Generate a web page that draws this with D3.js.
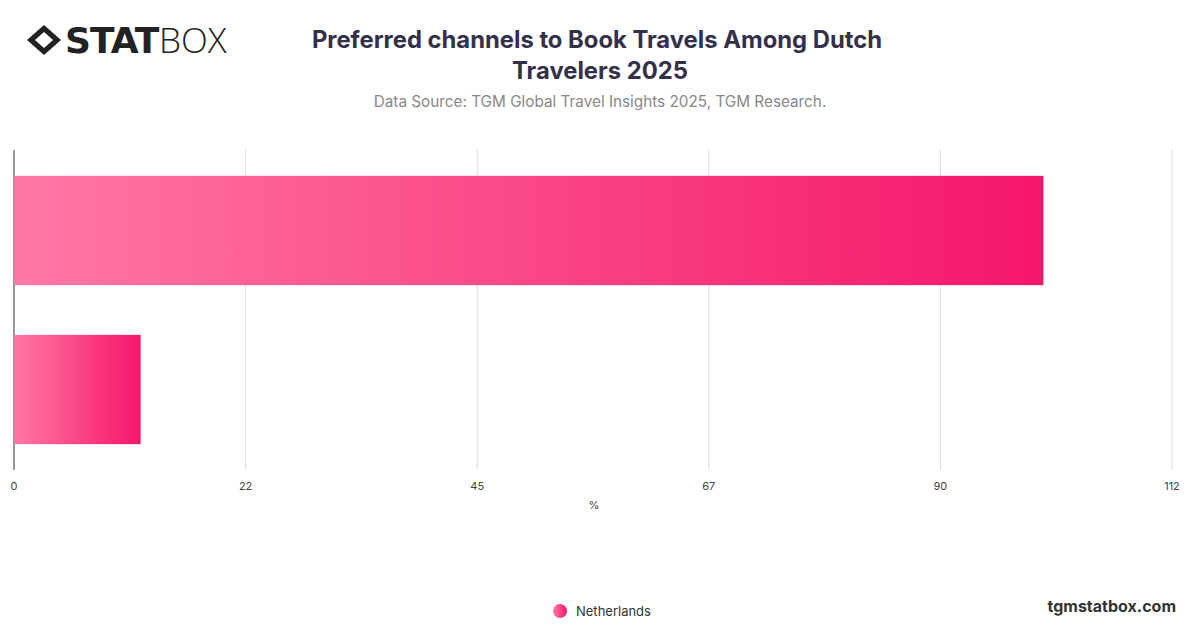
<!DOCTYPE html>
<html><head><meta charset="utf-8">
<script src="https://cdn.jsdelivr.net/npm/d3@7"></script>
<style>body{margin:0;background:#fff;font-family:Inter,"Noto Sans",sans-serif}</style>
</head><body><svg id="c" width="1200" height="628"></svg>
<script>
// chart data
const categories = ["Online", "Offline"];
const values = [100, 12.3];
const tickValues = [0, 22.5, 45, 67.5, 90, 112.5];
const seriesName = "Netherlands";

const svg = d3.select("#c");
const defs = svg.append("defs");
const grad = defs.append("linearGradient").attr("id", "g");
grad.append("stop").attr("offset", "0%").attr("stop-color", "#ff78a4");
grad.append("stop").attr("offset", "100%").attr("stop-color", "#f5166a");

// logo
const logo = svg.append("g").attr("transform", "translate(27,40)");
logo.append("path").attr("d", "M0,0 L17,-15 L34,0 L17,15 Z").attr("fill", "#222");
logo.append("path").attr("d", "M8,0 L17,-8 L26,0 L17,8 Z").attr("fill", "#fff");
logo.append("text").attr("x", 38).attr("y", 13).attr("font-size", 36).attr("font-weight", 900)
  .attr("font-family", "'DejaVu Sans'").attr("fill", "#222").attr("letter-spacing", -1).text("STAT");
logo.append("text").attr("x", 132).attr("y", 13).attr("font-size", 35).attr("font-weight", 300)
  .attr("font-family", "'Open Sans'").attr("fill", "#222").text("BOX");

// title
svg.append("text").attr("x", 597).attr("y", 48).attr("text-anchor", "middle").attr("font-size", 23.8)
  .attr("font-weight", 700).attr("fill", "#33304a").text("Preferred channels to Book Travels Among Dutch");
svg.append("text").attr("x", 600).attr("y", 79).attr("text-anchor", "middle").attr("font-size", 23.8)
  .attr("font-weight", 700).attr("fill", "#33304a").text("Travelers 2025");
svg.append("text").attr("x", 600).attr("y", 107).attr("text-anchor", "middle").attr("font-size", 15.3)
  .attr("fill", "#888").text("Data Source: TGM Global Travel Insights 2025, TGM Research.");

const x = d3.scaleLinear().domain([0, 112.5]).range([14, 1172]);
const y = d3.scaleBand().domain(categories).range([150, 470]).paddingInner(0.3125).paddingOuter(0.1625);

svg.append("g").selectAll("line").data(tickValues.slice(1)).join("line")
  .attr("x1", d => x(d)).attr("x2", d => x(d)).attr("y1", 150).attr("y2", 470)
  .attr("stroke", "#ddd");
svg.append("line").attr("x1", 14).attr("x2", 14).attr("y1", 150).attr("y2", 470).attr("stroke", "#333");

categories.forEach((c, i) => {
  const gi = defs.append("linearGradient").attr("id", "g" + i)
    .attr("gradientUnits", "userSpaceOnUse").attr("x1", x(0)).attr("x2", x(values[i]));
  gi.append("stop").attr("offset", "0%").attr("stop-color", "#ff78a4");
  gi.append("stop").attr("offset", "100%").attr("stop-color", "#f5166a");
});
svg.append("g").selectAll("rect").data(categories).join("rect")
  .attr("x", x(0)).attr("y", d => y(d)).attr("height", y.bandwidth())
  .attr("width", (d, i) => x(values[i]) - x(0)).attr("fill", (d, i) => `url(#g${i})`);

svg.append("g").selectAll("text").data(tickValues).join("text")
  .attr("x", d => x(d)).attr("y", 490).attr("text-anchor", "middle").attr("font-size", 11)
  .attr("fill", "#444").text(d => Math.floor(d));
svg.append("text").attr("x", 594).attr("y", 509).attr("text-anchor", "middle").attr("font-size", 11)
  .attr("fill", "#444").text("%");

// legend
svg.append("circle").attr("cx", 560).attr("cy", 611).attr("r", 7).attr("fill", "url(#g)");
svg.append("text").attr("x", 576).attr("y", 616).attr("font-size", 13).attr("fill", "#333").text(seriesName);

svg.append("text").attr("x", 1176).attr("y", 612).attr("text-anchor", "end").attr("font-size", 16)
  .attr("font-weight", 700).attr("fill", "#333").text("tgmstatbox.com");
</script></body></html>
